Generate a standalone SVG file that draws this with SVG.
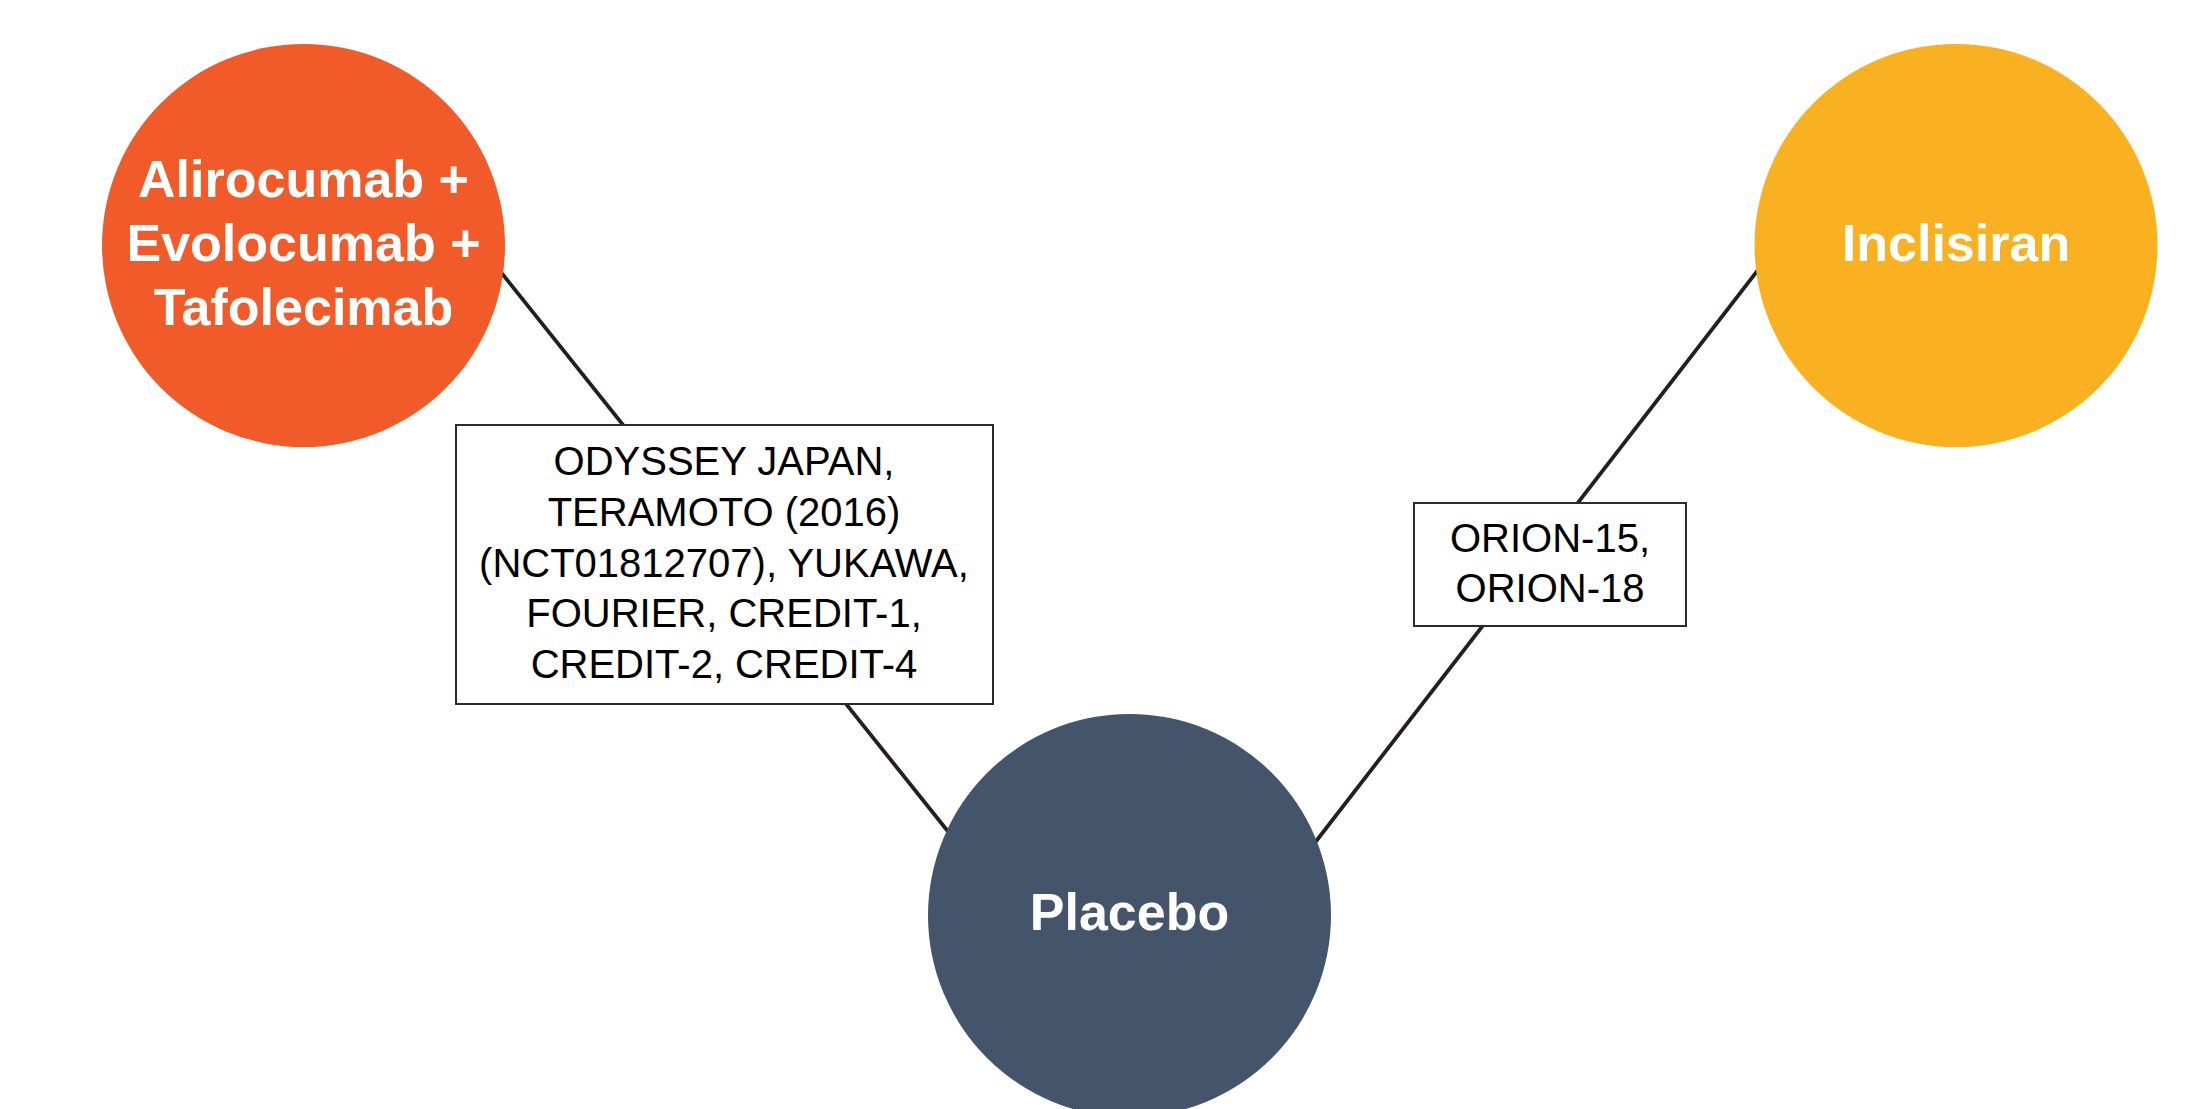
<svg xmlns="http://www.w3.org/2000/svg" width="2200" height="1109" viewBox="0 0 2200 1109">
<style>
.edge{stroke:#231f20;stroke-width:3.8;fill:none}
.lbl{fill:#fff;stroke:#2b2b2b;stroke-width:2}
.lt{font-family:"Liberation Sans",Arial,sans-serif;font-size:40px;fill:#000;text-anchor:middle}
.nt{font-family:"Liberation Sans",Arial,sans-serif;font-size:52px;font-weight:bold;fill:#fff;text-anchor:middle}
</style>
<rect width="2200" height="1109" fill="#fff"/>
<g id="connectors">
<line class="edge" x1="480" y1="246" x2="970" y2="859"/>
<line class="edge" x1="1775" y1="248" x2="1300" y2="862"/>
<g id="label-pcsk9-placebo">
<rect class="lbl" x="456" y="425" width="537" height="279"/>
<text class="lt" x="724" y="475">ODYSSEY JAPAN,</text>
<text class="lt" x="724" y="526">TERAMOTO (2016)</text>
<text class="lt" x="724" y="576.5">(NCT01812707), YUKAWA,</text>
<text class="lt" x="724" y="627">FOURIER, CREDIT-1,</text>
<text class="lt" x="724" y="678">CREDIT-2, CREDIT-4</text>
</g>
<g id="label-inclisiran-placebo">
<rect class="lbl" x="1414" y="503" width="272" height="123"/>
<text class="lt" x="1550" y="552">ORION-15,</text>
<text class="lt" x="1550" y="602">ORION-18</text>
</g>
</g>
<g id="node-pcsk9">
<circle cx="303.5" cy="245.5" r="201.5" fill="#F15A29"/>
<text class="nt" x="303.5" y="197">Alirocumab +</text>
<text class="nt" x="303.5" y="261">Evolocumab +</text>
<text class="nt" x="303.5" y="325">Tafolecimab</text>
</g>
<g id="node-inclisiran">
<circle cx="1956" cy="245.5" r="201.5" fill="#F9B021"/>
<text class="nt" x="1956" y="261">Inclisiran</text>
</g>
<g id="node-placebo">
<circle cx="1129.5" cy="915.5" r="201.5" fill="#44546A"/>
<text class="nt" x="1129.5" y="930">Placebo</text>
</g>
</svg>
